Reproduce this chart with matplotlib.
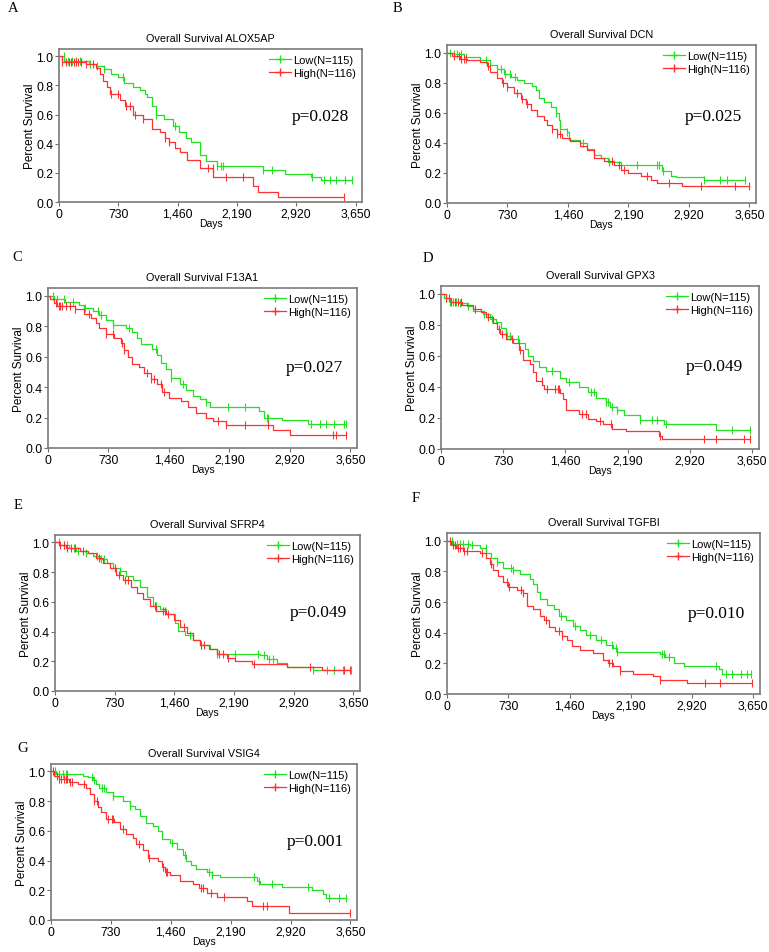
import numpy as np
import matplotlib
matplotlib.use('Agg')
import matplotlib.pyplot as plt
from matplotlib.lines import Line2D

plt.rcParams['font.family'] = ['Liberation Sans', 'DejaVu Sans']

# datos: tiempos de caida (dias), supervivencia despues de cada caida, censuras
genes = ['ALOX5AP', 'DCN', 'F13A1', 'GPX3', 'SFRP4', 'TGFBI', 'VSIG4']
letras = ['A', 'B', 'C', 'D', 'E', 'F', 'G']
p_valores = ['p=0.028', 'p=0.025', 'p=0.027', 'p=0.049', 'p=0.049', 'p=0.010', 'p=0.001']
p_y = [0.59, 0.58, 0.53, 0.535, 0.53, 0.53, 0.53]

# A - ALOX5AP
a_low_t = [65, 370, 460, 560, 640, 730, 800, 910, 995, 1060, 1080, 1140, 1200, 1290, 1400, 1480, 1560, 1630, 1730, 1815, 1940, 2510, 2780, 3100, 3230]
a_low_s = [0.97, 0.95, 0.93, 0.91, 0.88, 0.86, 0.82, 0.79, 0.77, 0.74, 0.72, 0.66, 0.60, 0.57, 0.52, 0.48, 0.44, 0.41, 0.32, 0.28, 0.25, 0.22, 0.19, 0.175, 0.15]
a_low_c = [60, 110, 160, 210, 260, 380, 470, 560, 790, 1200, 1430, 1950, 1990, 2020, 2510, 2620, 3110, 3260, 3340, 3410, 3520, 3610]
a_high_t = [40, 330, 460, 500, 545, 590, 630, 750, 810, 910, 1040, 1140, 1240, 1300, 1360, 1430, 1490, 1570, 1730, 1900, 2390, 2450, 2700]
a_high_s = [0.96, 0.95, 0.92, 0.88, 0.83, 0.79, 0.74, 0.70, 0.66, 0.60, 0.57, 0.50, 0.48, 0.44, 0.41, 0.37, 0.34, 0.29, 0.23, 0.17, 0.11, 0.066, 0.032]
a_high_c = [40, 90, 120, 150, 180, 210, 240, 270, 330, 420, 640, 730, 830, 880, 930, 1040, 1310, 1360, 1840, 1890, 2050, 2260, 3510]

# B - DCN
b_low_t = [80, 200, 400, 520, 600, 690, 770, 850, 930, 1030, 1070, 1110, 1170, 1250, 1310, 1350, 1370, 1450, 1470, 1610, 1690, 1780, 1860, 1940, 2100, 2600, 2700, 2760, 3100]
b_low_s = [0.99, 0.97, 0.95, 0.92, 0.89, 0.86, 0.84, 0.82, 0.80, 0.78, 0.75, 0.70, 0.67, 0.64, 0.60, 0.55, 0.49, 0.47, 0.42, 0.40, 0.36, 0.32, 0.30, 0.27, 0.25, 0.21, 0.18, 0.17, 0.15]
b_low_c = [40, 80, 120, 170, 230, 470, 600, 650, 700, 760, 820, 1310, 1450, 1640, 1960, 2290, 2530, 2560, 2610, 3100, 3300, 3380, 3600]
b_high_t = [60, 160, 240, 400, 480, 520, 600, 660, 730, 810, 890, 950, 1010, 1090, 1170, 1210, 1270, 1330, 1390, 1490, 1610, 1690, 1780, 1900, 2020, 2100, 2180, 2340, 2460, 2540, 2840]
b_high_s = [0.98, 0.96, 0.95, 0.94, 0.91, 0.87, 0.83, 0.80, 0.77, 0.73, 0.69, 0.655, 0.62, 0.58, 0.55, 0.52, 0.49, 0.46, 0.43, 0.41, 0.38, 0.35, 0.30, 0.28, 0.25, 0.22, 0.20, 0.18, 0.15, 0.136, 0.115]
b_high_c = [90, 140, 170, 200, 230, 500, 670, 730, 840, 910, 960, 1270, 1330, 1370, 1990, 2080, 2140, 2420, 2680, 3070, 3480, 3650]

# C - F13A1
c_low_t = [70, 210, 380, 440, 540, 620, 700, 780, 940, 1020, 1080, 1120, 1260, 1320, 1360, 1420, 1480, 1590, 1670, 1750, 1830, 1910, 1950, 2550, 2610, 2830, 3140]
c_low_s = [0.98, 0.96, 0.94, 0.92, 0.90, 0.87, 0.84, 0.81, 0.79, 0.76, 0.72, 0.68, 0.65, 0.61, 0.56, 0.52, 0.46, 0.42, 0.38, 0.34, 0.32, 0.30, 0.27, 0.24, 0.20, 0.185, 0.16]
c_low_c = [60, 110, 190, 300, 450, 600, 640, 780, 980, 1300, 1490, 1630, 1910, 2170, 2380, 2640, 2660, 3170, 3280, 3360, 3450, 3570, 3600]
c_high_t = [30, 70, 110, 330, 430, 520, 580, 620, 700, 800, 880, 920, 960, 1020, 1100, 1160, 1240, 1320, 1380, 1460, 1600, 1690, 1790, 1910, 1990, 2150, 2710, 2920]
c_high_s = [0.98, 0.95, 0.93, 0.91, 0.88, 0.85, 0.82, 0.79, 0.75, 0.72, 0.69, 0.64, 0.60, 0.55, 0.53, 0.49, 0.45, 0.42, 0.37, 0.33, 0.31, 0.27, 0.23, 0.20, 0.175, 0.15, 0.12, 0.088]
c_high_c = [100, 130, 150, 170, 220, 270, 330, 500, 700, 790, 890, 920, 1190, 1240, 1280, 1370, 1400, 2050, 2150, 2380, 2650, 3440, 3480, 3600]

# D - GPX3
d_low_t = [40, 100, 200, 310, 370, 490, 570, 650, 700, 760, 820, 920, 980, 1020, 1080, 1150, 1230, 1390, 1470, 1620, 1720, 1820, 1940, 1980, 2060, 2150, 2330, 2620, 3230]
d_low_s = [0.97, 0.95, 0.94, 0.92, 0.89, 0.87, 0.84, 0.82, 0.78, 0.73, 0.71, 0.68, 0.645, 0.60, 0.57, 0.53, 0.50, 0.46, 0.43, 0.40, 0.365, 0.33, 0.305, 0.27, 0.25, 0.22, 0.19, 0.16, 0.12]
d_low_c = [60, 100, 140, 180, 220, 320, 500, 600, 770, 810, 900, 1300, 1500, 1760, 1790, 1940, 1960, 2010, 2060, 2330, 2480, 2530, 2640, 3410, 3620]
d_high_t = [60, 120, 250, 370, 470, 530, 610, 660, 690, 760, 840, 920, 960, 1040, 1080, 1120, 1190, 1210, 1390, 1430, 1470, 1620, 1720, 1820, 1900, 2000, 2170, 2560, 2590]
d_high_s = [0.97, 0.95, 0.93, 0.90, 0.88, 0.85, 0.81, 0.77, 0.74, 0.71, 0.68, 0.64, 0.575, 0.55, 0.495, 0.44, 0.41, 0.385, 0.36, 0.325, 0.25, 0.225, 0.195, 0.178, 0.16, 0.13, 0.118, 0.086, 0.065]
d_high_c = [60, 90, 120, 160, 200, 240, 400, 550, 680, 720, 830, 930, 1180, 1240, 1340, 1370, 1380, 1650, 1700, 1860, 1990, 2570, 3080, 3230, 3550, 3620]

# E - SFRP4
e_low_t = [55, 175, 260, 380, 460, 545, 630, 710, 790, 870, 950, 1040, 1120, 1200, 1280, 1360, 1470, 1510, 1590, 1690, 1770, 1900, 1980, 2510, 2590, 2720, 2840, 3150]
e_low_s = [0.98, 0.96, 0.94, 0.93, 0.91, 0.89, 0.86, 0.83, 0.805, 0.775, 0.745, 0.70, 0.63, 0.575, 0.55, 0.52, 0.46, 0.405, 0.375, 0.34, 0.31, 0.285, 0.25, 0.24, 0.215, 0.19, 0.16, 0.14]
e_low_c = [50, 110, 150, 230, 280, 380, 510, 560, 600, 800, 1240, 1650, 1790, 1980, 2200, 2480, 2560, 2620, 2660, 3150, 3330, 3410, 3520, 3620]
e_high_t = [55, 135, 300, 400, 500, 585, 670, 750, 830, 935, 1000, 1080, 1160, 1240, 1360, 1450, 1530, 1610, 1690, 1770, 1880, 1980, 2100, 2200, 2410, 2840, 3270]
e_high_s = [0.98, 0.96, 0.94, 0.93, 0.895, 0.86, 0.825, 0.78, 0.745, 0.70, 0.66, 0.62, 0.575, 0.54, 0.52, 0.475, 0.43, 0.39, 0.34, 0.31, 0.285, 0.25, 0.22, 0.205, 0.18, 0.16, 0.14]
e_high_c = [60, 110, 150, 200, 240, 340, 540, 730, 780, 860, 890, 1220, 1320, 1350, 1380, 1580, 1780, 1820, 2000, 2050, 2120, 2430, 3120, 3530, 3610]

# F - TGFBI
f_low_t = [70, 270, 390, 470, 530, 590, 670, 790, 870, 990, 1030, 1070, 1110, 1190, 1270, 1340, 1420, 1500, 1580, 1660, 1780, 1900, 1980, 2020, 2540, 2600, 2700, 2820, 3240, 3280]
f_low_s = [0.98, 0.97, 0.95, 0.92, 0.89, 0.86, 0.825, 0.81, 0.78, 0.75, 0.715, 0.665, 0.62, 0.58, 0.555, 0.51, 0.48, 0.445, 0.415, 0.385, 0.35, 0.32, 0.30, 0.275, 0.26, 0.24, 0.205, 0.185, 0.16, 0.13]
f_low_c = [60, 120, 160, 190, 250, 300, 460, 590, 760, 790, 1360, 1530, 1700, 1830, 1970, 2010, 2030, 2560, 2590, 2650, 3200, 3330, 3400, 3500, 3580, 3620]
f_high_t = [50, 110, 190, 390, 470, 510, 550, 610, 670, 730, 830, 910, 950, 1030, 1110, 1150, 1210, 1290, 1370, 1430, 1490, 1590, 1740, 1860, 1920, 1980, 2060, 2220, 2460, 2540, 2860]
f_high_s = [0.97, 0.95, 0.93, 0.92, 0.89, 0.85, 0.81, 0.77, 0.73, 0.70, 0.68, 0.66, 0.575, 0.555, 0.51, 0.48, 0.435, 0.41, 0.38, 0.35, 0.315, 0.29, 0.27, 0.22, 0.20, 0.18, 0.15, 0.13, 0.115, 0.093, 0.075]
f_high_c = [40, 70, 100, 130, 160, 200, 240, 420, 530, 720, 740, 880, 910, 1180, 1340, 1370, 1930, 1970, 2060, 2540, 3080, 3250, 3630]

# G - VSIG4
g_low_t = [60, 390, 450, 510, 550, 590, 670, 750, 880, 960, 1020, 1080, 1160, 1240, 1300, 1350, 1450, 1530, 1610, 1650, 1710, 1770, 1900, 1960, 2060, 2510, 2550, 2810, 3180, 3320, 3350]
g_low_s = [0.98, 0.97, 0.96, 0.94, 0.915, 0.89, 0.86, 0.835, 0.80, 0.77, 0.745, 0.70, 0.655, 0.635, 0.60, 0.545, 0.52, 0.48, 0.435, 0.40, 0.37, 0.345, 0.32, 0.30, 0.29, 0.265, 0.245, 0.222, 0.20, 0.178, 0.15]
g_low_c = [50, 100, 150, 180, 200, 500, 520, 620, 640, 750, 760, 960, 1470, 1630, 1920, 1960, 2480, 2540, 2690, 3130, 3390, 3510, 3590]
g_high_t = [40, 100, 220, 330, 430, 470, 530, 570, 610, 670, 770, 840, 920, 1000, 1040, 1120, 1180, 1300, 1350, 1390, 1450, 1570, 1730, 1810, 1900, 2020, 2390, 2450, 2900]
g_high_s = [0.97, 0.95, 0.93, 0.915, 0.89, 0.845, 0.80, 0.76, 0.73, 0.68, 0.66, 0.61, 0.58, 0.555, 0.51, 0.47, 0.42, 0.40, 0.355, 0.325, 0.30, 0.265, 0.245, 0.215, 0.185, 0.155, 0.127, 0.096, 0.045]
g_high_c = [30, 70, 100, 120, 160, 180, 200, 230, 260, 400, 530, 560, 700, 740, 760, 880, 1070, 1190, 1370, 1400, 1420, 1830, 1850, 1950, 2110, 2590, 2630, 3650]

curvas_low = [(a_low_t, a_low_s, a_low_c), (b_low_t, b_low_s, b_low_c), (c_low_t, c_low_s, c_low_c),
              (d_low_t, d_low_s, d_low_c), (e_low_t, e_low_s, e_low_c), (f_low_t, f_low_s, f_low_c),
              (g_low_t, g_low_s, g_low_c)]
curvas_high = [(a_high_t, a_high_s, a_high_c), (b_high_t, b_high_s, b_high_c), (c_high_t, c_high_s, c_high_c),
               (d_high_t, d_high_s, d_high_c), (e_high_t, e_high_s, e_high_c), (f_high_t, f_high_s, f_high_c),
               (g_high_t, g_high_s, g_high_c)]

x_ticks = [0, 730, 1460, 2190, 2920, 3650]
y_ticks = [0.0, 0.2, 0.4, 0.6, 0.8, 1.0]

VERDE = '#22e022'
ROJO = '#ff3030'

W, H = 769, 953
# posicion de cada panel en pixeles: izquierda, ancho, borde inferior, alto
paneles = [(59, 303, 203, 153), (447, 309, 204, 158), (48, 309, 449, 160), (441, 318, 450, 163),
           (55, 305, 692, 156), (447, 313, 695, 161), (51, 306, 921, 156)]
pos_letras = [(8, 9), (393, 8), (12, 258), (423, 259), (14, 506), (412, 499), (17, 749)]


def dibujar_km(ax, t, s, cens, color):
    fin = max(cens[-1], t[-1])
    xs = [0] + list(t) + [fin]
    ys = [1.0] + list(s) + [s[-1]]
    ax.step(xs, ys, where='post', color=color, lw=0.9)
    tt = np.array(t)
    ss = np.array([1.0] + list(s))
    idx = np.searchsorted(tt, np.array(cens), side='right')
    ax.plot(cens, ss[idx], linestyle='none', marker='|', markersize=6,
            markeredgewidth=0.8, color=color)


fig = plt.figure(figsize=(W / 100, H / 100), dpi=100)

for i in range(7):
    l, w, b, h = paneles[i]
    ax = fig.add_axes([l / W, (H - b) / H, w / W, h / H])
    dibujar_km(ax, *curvas_low[i], VERDE)
    dibujar_km(ax, *curvas_high[i], ROJO)
    ax.set_xlim(0, 3730)
    ax.set_ylim(0, 1.05)
    ax.set_xticks(x_ticks)
    ax.set_xticklabels([f'{v:,}' for v in x_ticks])
    ax.set_yticks(y_ticks)
    ax.set_yticklabels([f'{v:.1f}' for v in y_ticks])
    ax.tick_params(labelsize=8.8, length=3, width=0.8, pad=1.2, color='#707070')
    for sp in ax.spines.values():
        sp.set_linewidth(1.2)
        sp.set_color('#7a7a7a')
    ax.set_xlabel('Days', fontsize=7.5, labelpad=-1)
    ax.set_ylabel('Percent Survival', fontsize=8.5, labelpad=0)
    ax.set_title('Overall Survival ' + genes[i], fontsize=7.8, pad=6)
    ax.text(2870, p_y[i], p_valores[i], fontsize=12.5, family='Liberation Serif',
            ha='left', va='center')
    handles = [Line2D([], [], color=VERDE, lw=0.9, marker='+', markersize=6),
               Line2D([], [], color=ROJO, lw=0.9, marker='+', markersize=6)]
    ax.legend(handles, ['Low(N=115)', 'High(N=116)'], loc='upper right', frameon=False,
              fontsize=8, handlelength=2.0, handletextpad=0.2, borderaxespad=0.1,
              labelspacing=0.3, bbox_to_anchor=(1.0, 1.0))
    lx, ly = pos_letras[i]
    fig.text(lx / W, 1 - ly / H, letras[i], fontsize=10.5, family='Liberation Serif',
             ha='left', va='center')

fig.savefig('out.png', dpi=100)
